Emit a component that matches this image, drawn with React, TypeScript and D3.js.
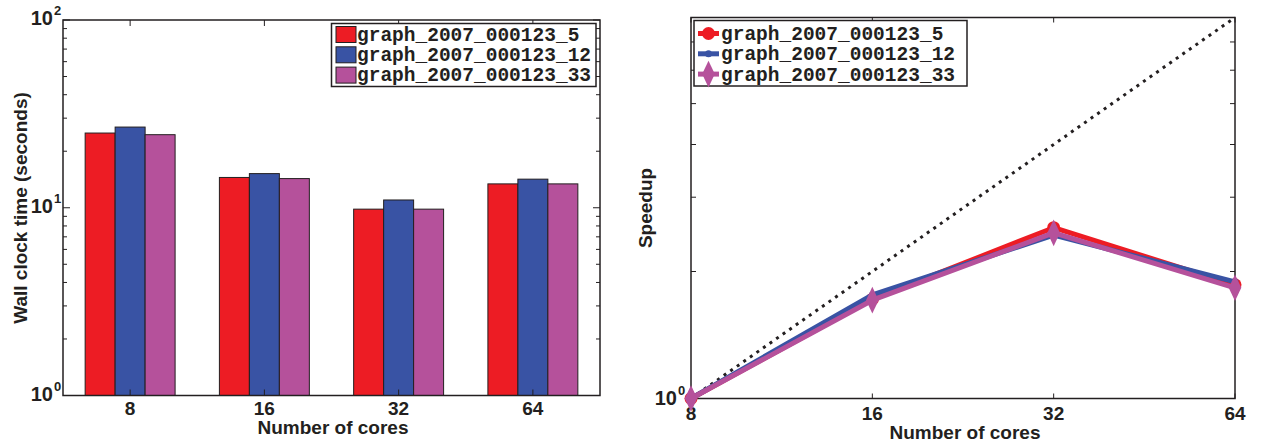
import * as d3 from 'd3';
import React from 'react';

// data
const cores = ['8', '16', '32', '64'];
const coreCounts = [8, 16, 32, 64];
const seriesNames = ['graph_2007_000123_5', 'graph_2007_000123_12', 'graph_2007_000123_33'];
const seriesColors = ['#ed1c24', '#3953a4', '#b5519b'];
const time5 = [25.0, 14.5, 9.83, 13.4];
const time12 = [26.9, 15.2, 11.0, 14.2];
const time33 = [24.5, 14.3, 9.83, 13.4];
const speedup5 = [1, 1.72, 2.54, 1.86];
const speedup12 = [1, 1.76, 2.44, 1.89];
const speedup33 = [1, 1.71, 2.47, 1.83];
const idealCores = [8, 64];
const idealSpeedup = [1, 8];
const timeMinorTicks = [2, 3, 4, 5, 6, 7, 8, 9, 20, 30, 40, 50, 60, 70, 80, 90];
const speedMinorTicks = [2, 3, 4, 5, 6, 7];

const ink = '#231f20';
const sans = '"Liberation Sans", Arial, Helvetica, sans-serif';
const mono = '"Liberation Mono", "Courier New", monospace';

const times = [time5, time12, time33];
const speeds = [speedup5, speedup12, speedup33];

const Pow10 = ({ x, y, exp }: { x: number; y: number; exp: number }) => (
  <g fontFamily={sans} fontWeight="bold" fill={ink}>
    <text x={x} y={y + 7} fontSize={20} textAnchor="end">10</text>
    <text x={x + 1} y={y - 3} fontSize={13}>{exp}</text>
  </g>
);

const BarChart = () => {
  const left = 63, right = 600, top = 20, bottom = 395.5;
  const x = d3.scaleBand().domain(cores).range([left, right]).paddingInner(0.33).paddingOuter(0.165);
  const xs = d3.scaleBand().domain(seriesNames).range([0, x.bandwidth()]);
  const y = d3.scaleLog().domain([1, 100]).range([bottom, top]);
  return (
    <g>
      {times.map((vals, si) =>
        vals.map((v, ci) => (
          <rect key={`${si}-${ci}`}
            x={(x(cores[ci]) as number) + (xs(seriesNames[si]) as number)}
            y={y(v)} width={xs.bandwidth()} height={bottom - y(v)}
            fill={seriesColors[si]} stroke={ink} strokeWidth={1} />
        ))
      )}
      <rect x={left} y={top} width={right - left} height={bottom - top} fill="none" stroke={ink} strokeWidth={1.5} />
      {[1, 10, 100].map(t => (
        <g key={t}>
          <line x1={left} x2={left + 7} y1={y(t)} y2={y(t)} stroke={ink} />
          <line x1={right} x2={right - 7} y1={y(t)} y2={y(t)} stroke={ink} />
          <Pow10 x={53} y={y(t) - 2} exp={Math.round(Math.log10(t))} />
        </g>
      ))}
      {timeMinorTicks.map(t => (
        <g key={t}>
          <line x1={left} x2={left + 4} y1={y(t)} y2={y(t)} stroke={ink} />
          <line x1={right} x2={right - 4} y1={y(t)} y2={y(t)} stroke={ink} />
        </g>
      ))}
      {cores.map(c => {
        const cx = (x(c) as number) + x.bandwidth() / 2;
        return (
          <g key={c}>
            <line x1={cx} x2={cx} y1={top} y2={top + 6} stroke={ink} />
            <line x1={cx} x2={cx} y1={bottom} y2={bottom - 6} stroke={ink} />
            <text x={cx} y={415} textAnchor="middle" fontFamily={sans} fontWeight="bold" fontSize={19} fill={ink}>{c}</text>
          </g>
        );
      })}
      <text x={333} y={434} textAnchor="middle" fontFamily={sans} fontWeight="bold" fontSize={19} fill={ink}>Number of cores</text>
      <text transform="translate(27,208) rotate(-90)" textAnchor="middle" fontFamily={sans} fontWeight="bold" fontSize={19} fill={ink}>Wall clock time (seconds)</text>
      <rect x={331.5} y={23.5} width={264.5} height={63} fill="#fff" stroke={ink} strokeWidth={1.5} />
      {seriesNames.map((n, i) => (
        <g key={n}>
          <rect x={336} y={26.5 + i * 20.3} width={20} height={16} fill={seriesColors[i]} stroke={ink} strokeWidth={1} />
          <text x={357} y={40.5 + i * 20.3} fontFamily={mono} fontWeight="bold" fontSize={19.5} fill={ink}>{n}</text>
        </g>
      ))}
    </g>
  );
};

const SpeedupChart = () => {
  const left = 691, right = 1235, top = 17.5, bottom = 398.5;
  const x = d3.scaleLog().base(2).domain([8, 64]).range([left, right]);
  const y = d3.scaleLog().domain([1, 8]).range([bottom, top]);
  const line = d3.line<number>().x((_, i) => x(coreCounts[i])).y(d => y(d));
  const ideal = d3.line<number>().x((_, i) => x(idealCores[i])).y(d => y(d));
  const marker = (si: number, cx: number, cy: number, key: string) => {
    if (si === 0) return <circle key={key} cx={cx} cy={cy} r={6.5} fill={seriesColors[0]} />;
    if (si === 1) return <circle key={key} cx={cx} cy={cy} r={3.5} fill={seriesColors[1]} />;
    const s = d3.symbol(d3.symbolDiamond, 170)();
    return <path key={key} d={s as string} transform={`translate(${cx},${cy}) scale(0.9,1.1)`} fill={seriesColors[2]} />;
  };
  return (
    <g>
      <rect x={left} y={top} width={right - left} height={bottom - top} fill="none" stroke={ink} strokeWidth={1.5} />
      {speedMinorTicks.map(t => (
        <g key={t}>
          <line x1={left} x2={left + 5} y1={y(t)} y2={y(t)} stroke={ink} />
          <line x1={right} x2={right - 5} y1={y(t)} y2={y(t)} stroke={ink} />
        </g>
      ))}
      {coreCounts.map((c, i) => (
        <g key={c}>
          <line x1={x(c)} x2={x(c)} y1={top} y2={top + 5} stroke={ink} />
          <line x1={x(c)} x2={x(c)} y1={bottom} y2={bottom - 5} stroke={ink} />
          <text x={x(c)} y={420} textAnchor="middle" fontFamily={sans} fontWeight="bold" fontSize={19} fill={ink}>{cores[i]}</text>
        </g>
      ))}
      <Pow10 x={677} y={y(1) - 1} exp={0} />
      <path d={ideal(idealSpeedup) as string} fill="none" stroke={ink} strokeWidth={3} strokeDasharray="3 5" />
      {speeds.map((vals, si) => (
        <g key={si}>
          <path d={line(vals) as string} fill="none" stroke={seriesColors[si]} strokeWidth={5} strokeLinejoin="round" />
          {vals.map((v, i) => marker(si, x(coreCounts[i]), y(v), `${si}-${i}`))}
        </g>
      ))}
      <text x={965} y={439} textAnchor="middle" fontFamily={sans} fontWeight="bold" fontSize={19} fill={ink}>Number of cores</text>
      <text transform="translate(652,208) rotate(-90)" textAnchor="middle" fontFamily={sans} fontWeight="bold" fontSize={19} fill={ink}>Speedup</text>
      <rect x={694} y={20.5} width={273} height={65.5} fill="#fff" stroke={ink} strokeWidth={1.5} />
      {seriesNames.map((n, i) => (
        <g key={n}>
          <line x1={698} x2={719} y1={33.5 + i * 20.3} y2={33.5 + i * 20.3} stroke={seriesColors[i]} strokeWidth={5} />
          {marker(i, 708.5, 33.5 + i * 20.3, 'lg' + i)}
          <text x={721} y={40 + i * 20.3} fontFamily={mono} fontWeight="bold" fontSize={19.5} fill={ink}>{n}</text>
        </g>
      ))}
    </g>
  );
};

export default function App() {
  return (
    <svg width={1263} height={443} style={{ position: 'absolute', left: 0, top: 0, background: '#fff' }}>
      <BarChart />
      <SpeedupChart />
    </svg>
  );
}
